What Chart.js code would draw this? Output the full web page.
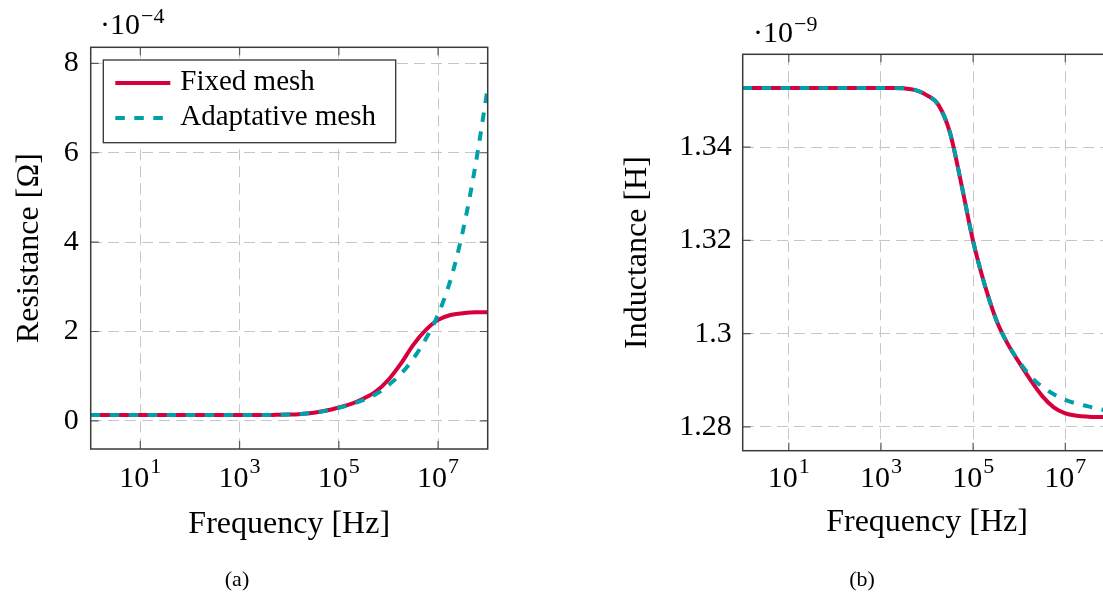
<!DOCTYPE html>
<html>
<head>
<meta charset="utf-8">
<script src="https://cdn.jsdelivr.net/npm/chart.js@4.4.1/dist/chart.umd.min.js"></script>
<style>
  html, body { margin: 0; padding: 0; background: #fff; overflow: hidden; }
  canvas { position: absolute; top: 0; }
  #resChart { left: 0; }
  #indChart { left: 600px; }
</style>
</head>
<body>
<canvas id="resChart" width="560" height="594"></canvas>
<canvas id="indChart" width="540" height="594"></canvas>
<script>
// frequency samples, as powers of ten (Hz)
var freqExp = [0, 0.25, 0.5, 0.75, 1, 1.25, 1.5, 1.75, 2, 2.25, 2.5, 2.75, 3, 3.25, 3.5, 3.75,
               4, 4.25, 4.5, 4.75, 5, 5.25, 5.5, 5.75, 6, 6.25, 6.5, 6.75, 7, 7.25, 7.5, 7.75, 8];

// resistance, in units of 1e-4 ohm
var resFixed = [0.13, 0.13, 0.13, 0.13, 0.13, 0.13, 0.13, 0.13, 0.13, 0.13, 0.13, 0.13, 0.13, 0.13, 0.13, 0.135,
                0.14, 0.155, 0.18, 0.23, 0.30, 0.38, 0.50, 0.66, 0.92, 1.28, 1.70, 2.03, 2.26, 2.37, 2.41, 2.43, 2.43];
var resAdaptive = [0.13, 0.13, 0.13, 0.13, 0.13, 0.13, 0.13, 0.13, 0.13, 0.13, 0.13, 0.13, 0.13, 0.13, 0.13, 0.135,
                   0.14, 0.155, 0.18, 0.23, 0.29, 0.37, 0.47, 0.60, 0.80, 1.05, 1.39, 1.83, 2.38, 3.15, 4.25, 5.70, 7.45];

// inductance, in units of 1e-9 H
var indFixed = [1.3527, 1.3527, 1.3527, 1.3527, 1.3527, 1.3527, 1.3527, 1.3527, 1.3527, 1.3527, 1.3527, 1.3527, 1.3527, 1.3527, 1.3526, 1.3522,
                1.3511, 1.3490, 1.3430, 1.3318, 1.3198, 1.3105, 1.3030, 1.2978, 1.2938, 1.2900, 1.2866, 1.2842, 1.2829, 1.2824, 1.2822, 1.2821, 1.2821];
var indAdaptive = [1.3527, 1.3527, 1.3527, 1.3527, 1.3527, 1.3527, 1.3527, 1.3527, 1.3527, 1.3527, 1.3527, 1.3527, 1.3527, 1.3527, 1.3526, 1.3522,
                   1.3511, 1.3490, 1.3430, 1.3318, 1.3198, 1.3105, 1.3030, 1.2978, 1.2940, 1.2908, 1.2886, 1.2870, 1.2858, 1.2850, 1.2844, 1.2838, 1.2833];

var seriesNames = ['Fixed mesh', 'Adaptative mesh'];
var xTickExps = [1, 3, 5, 7];
var resTicks = [0, 2, 4, 6, 8];
var resTickLabels = ['0', '2', '4', '6', '8'];
var indTicks = [1.28, 1.30, 1.32, 1.34];
var indTickLabels = ['1.28', '1.3', '1.32', '1.34'];

var RED = '#d6003c';
var CYAN = '#00a0aa';
var SERIF = '"Liberation Serif", "Times New Roman", serif';

Chart.defaults.font.family = SERIF;
Chart.defaults.color = '#000';

function pairs(exps, vals) {
    var out = [];
    for (var i in exps) {
        out.push({ x: Math.pow(10, exps[i]), y: vals[i] });
    }
    return out;
}

// frame, inner tick marks, 10^n labels, axis multiplier, legend box and caption
var framePlugin = {
    id: 'frame',
    afterDraw: function (chart, args, o) {
        var ctx = chart.ctx, a = chart.chartArea;
        var xs = chart.scales.x, ys = chart.scales.y;
        ctx.save();

        ctx.strokeStyle = '#5a5a5a';
        ctx.lineWidth = 1.2;
        ctx.beginPath();
        xs.ticks.forEach(function (t) {
            var px = xs.getPixelForValue(t.value);
            ctx.moveTo(px, a.bottom); ctx.lineTo(px, a.bottom - 8);
            ctx.moveTo(px, a.top); ctx.lineTo(px, a.top + 8);
        });
        ys.ticks.forEach(function (t) {
            var py = ys.getPixelForValue(t.value);
            ctx.moveTo(a.left, py); ctx.lineTo(a.left + 8, py);
            ctx.moveTo(a.right, py); ctx.lineTo(a.right - 8, py);
        });
        ctx.stroke();

        ctx.strokeStyle = '#3a3a3a';
        ctx.lineWidth = 1.5;
        ctx.strokeRect(a.left, a.top, a.right - a.left, a.bottom - a.top);

        // x tick labels as 10 with a raised exponent
        ctx.fillStyle = '#000';
        ctx.textBaseline = 'alphabetic';
        ctx.textAlign = 'left';
        xTickExps.forEach(function (e) {
            var px = xs.getPixelForValue(Math.pow(10, e));
            ctx.font = '30px ' + SERIF;
            var w1 = ctx.measureText('10').width;
            ctx.font = '22px ' + SERIF;
            var w2 = ctx.measureText(String(e)).width;
            var x0 = px - (w1 + w2 + 1) / 2;
            ctx.font = '30px ' + SERIF;
            ctx.fillText('10', x0, 487);
            ctx.font = '22px ' + SERIF;
            ctx.fillText(String(e), x0 + w1 + 1, 473);
        });

        // axis multiplier
        ctx.font = '30px ' + SERIF;
        ctx.fillText('·10', o.expX, o.expY);
        var wm = ctx.measureText('·10').width;
        ctx.font = '22px ' + SERIF;
        ctx.fillText(o.exp, o.expX + wm + 1, o.expY - 11);

        if (o.legend) {
            var lg = o.legend;
            ctx.fillStyle = '#fff';
            ctx.fillRect(lg.x, lg.y, lg.w, lg.h);
            ctx.strokeStyle = '#333';
            ctx.lineWidth = 1.3;
            ctx.strokeRect(lg.x, lg.y, lg.w, lg.h);
            chart.data.datasets.forEach(function (ds, i) {
                var ly = lg.y + 23 + i * 35;
                ctx.strokeStyle = ds.borderColor;
                ctx.lineWidth = 4;
                ctx.setLineDash(ds.borderDash || []);
                ctx.beginPath();
                ctx.moveTo(lg.x + 12, ly);
                ctx.lineTo(lg.x + 67, ly);
                ctx.stroke();
                ctx.setLineDash([]);
                ctx.fillStyle = '#000';
                ctx.font = '29px ' + SERIF;
                ctx.fillText(ds.label, lg.x + 77, ly + 7);
            });
        }

        ctx.fillStyle = '#000';
        ctx.font = '22px ' + SERIF;
        ctx.textAlign = 'center';
        ctx.fillText(o.caption, o.capX, 586);
        ctx.restore();
    }
};

function makeChart(id, fixed, adaptive, yMin, yMax, yTicks, yLabels, yTitle, lay, frameOpts) {
    return new Chart(document.getElementById(id), {
        type: 'line',
        data: {
            datasets: [{
                label: seriesNames[0],
                data: pairs(freqExp, fixed),
                borderColor: RED,
                borderWidth: 4,
                order: 2
            }, {
                label: seriesNames[1],
                data: pairs(freqExp, adaptive),
                borderColor: CYAN,
                borderWidth: 4,
                borderDash: [9.5, 9.5],
                order: 1
            }]
        },
        options: {
            responsive: false,
            animation: false,
            elements: {
                point: { radius: 0 },
                line: { cubicInterpolationMode: 'monotone' }
            },
            layout: { padding: { left: 0, top: lay.top, right: lay.right, bottom: 0 } },
            plugins: {
                legend: { display: false },
                tooltip: { enabled: false },
                frame: frameOpts
            },
            scales: {
                x: {
                    type: 'logarithmic',
                    min: 1,
                    max: 1e8,
                    afterBuildTicks: function (s) {
                        s.ticks = xTickExps.map(function (e) { return { value: Math.pow(10, e) }; });
                    },
                    afterFit: function (s) { s.height = lay.xHeight; },
                    ticks: { display: false },
                    grid: { color: '#c6c6c6', lineWidth: 1, drawTicks: false },
                    border: { display: false, dash: [11, 6] },
                    title: {
                        display: true,
                        text: 'Frequency [Hz]',
                        font: { size: 32 },
                        padding: { top: 0, bottom: lay.xTitlePad }
                    }
                },
                y: {
                    min: yMin,
                    max: yMax,
                    afterBuildTicks: function (s) {
                        s.ticks = yTicks.map(function (v) { return { value: v }; });
                    },
                    afterFit: function (s) { s.width = lay.yWidth; },
                    ticks: {
                        padding: lay.tickPad,
                        font: { size: 30 },
                        callback: function (v, i) { return yLabels[i]; }
                    },
                    grid: { color: '#c6c6c6', lineWidth: 1, drawTicks: false },
                    border: { display: false, dash: [11, 6] },
                    title: {
                        display: true,
                        text: yTitle,
                        font: { size: 32 },
                        padding: { top: lay.yTitlePad, bottom: 0 }
                    }
                }
            }
        },
        plugins: [framePlugin]
    });
}

makeChart('resChart', resFixed, resAdaptive, -0.63, 8.36, resTicks, resTickLabels, 'Resistance [Ω]',
    { top: 47.3, right: 72.3, xHeight: 145, yWidth: 90.7, tickPad: 12, xTitlePad: 50.5, yTitlePad: 10 },
    { exp: '−4', expX: 100, expY: 33.5, caption: '(a)', capX: 237,
      legend: { x: 103.3, y: 60, w: 292.4, h: 82.7 } });

makeChart('indChart', indFixed, indAdaptive, 1.2749, 1.3599, indTicks, indTickLabels, 'Inductance [H]',
    { top: 54.3, right: 28.6, xHeight: 143.3, yWidth: 142.7, tickPad: 11, xTitlePad: 52, yTitlePad: 18.5 },
    { exp: '−9', expX: 153, expY: 41.7, caption: '(b)', capX: 262 });
</script>
</body>
</html>
